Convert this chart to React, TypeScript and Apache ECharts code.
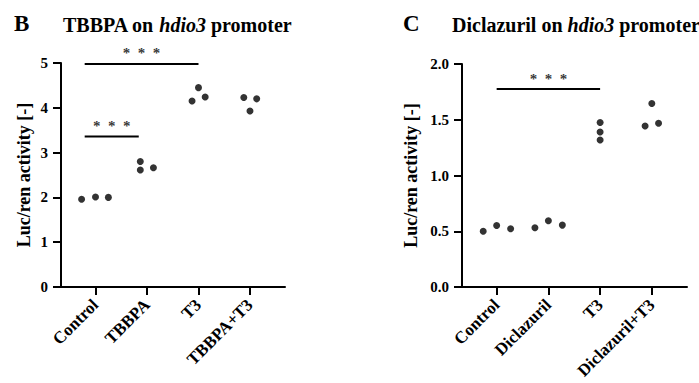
import React, { useEffect, useRef } from "react";
import * as echarts from "echarts";

// Panel B: TBBPA on hdio3 promoter
const bCategories = ["Control", "TBBPA", "T3", "TBBPA+T3"];
const bControl = [1.96, 2.01, 2.0];
const bTBBPA = [2.8, 2.61, 2.66];
const bT3 = [4.15, 4.45, 4.24];
const bTBBPAT3 = [4.23, 3.93, 4.2];
const bJitter = [
  [-0.27, 0, 0.25],
  [-0.13, -0.13, 0.125],
  [-0.125, 0, 0.13],
  [-0.12, 0, 0.13],
];
const bYTicks = [0, 1, 2, 3, 4, 5];

// Panel C: Diclazuril on hdio3 promoter
const cCategories = ["Control", "Diclazuril", "T3", "Diclazuril+T3"];
const cControl = [0.5, 0.552, 0.522];
const cDiclazuril = [0.531, 0.594, 0.555];
const cT3 = [1.475, 1.39, 1.318];
const cDiclazurilT3 = [1.444, 1.645, 1.468];
const cJitter = [
  [-0.26, 0, 0.27],
  [-0.26, 0, 0.27],
  [0, 0, 0],
  [-0.13, 0, 0.13],
];
const cYTicks = [0, 0.5, 1.0, 1.5, 2.0];

// Significance brackets: [xStart, xEnd, y]
const bSig = [
  [0.79, 3.0, 4.98],
  [0.79, 1.84, 3.36],
];
const cSig = [[1.0, 3.0, 1.775]];

const FONT = "'Liberation Serif', 'DejaVu Serif', serif";

function groupPoints(groups: number[][], jitter: number[][]) {
  const pts: number[][] = [];
  groups.forEach((vals, gi) => {
    vals.forEach((v, i) => pts.push([gi + 1 + jitter[gi][i], v]));
  });
  return pts;
}

function sigSeries(sig: number[][], idx: number) {
  const out: any[] = [];
  sig.forEach((s) => {
    out.push({
      type: "line",
      xAxisIndex: idx,
      yAxisIndex: idx,
      data: [
        [s[0], s[2]],
        [s[1], s[2]],
      ],
      symbol: "none",
      lineStyle: { color: "#000", width: 2 },
      silent: true,
    });
    out.push({
      type: "scatter",
      xAxisIndex: idx,
      yAxisIndex: idx,
      data: [[(s[0] + s[1]) / 2, s[2]]],
      symbolSize: 0,
      itemStyle: { color: "#000" },
      label: {
        show: true,
        position: "top",
        distance: 3,
        formatter: "*  *  *",
        fontFamily: FONT,
        fontWeight: "bold",
        fontSize: 15,
        color: "#000",
        textBorderWidth: 0,
      },
      silent: true,
    });
  });
  return out;
}

function xAxis(cats: string[], gridIndex: number) {
  return {
    type: "value",
    gridIndex,
    min: 0.33,
    max: 4.68,
    splitLine: { show: false },
    axisLine: { show: true, lineStyle: { color: "#000", width: 2 } },
    axisTick: {
      show: true,
      customValues: [1, 2, 3, 4],
      length: 8,
      lineStyle: { color: "#000", width: 2 },
    },
    axisLabel: {
      customValues: [1, 2, 3, 4],
      formatter: (v: number) => cats[Math.round(v) - 1] ?? "",
      rotate: 45,
      margin: 15,
      fontFamily: FONT,
      fontWeight: "bold",
      fontSize: 17,
      color: "#000",
    },
  };
}

function yAxis(ticks: number[], gridIndex: number, decimals: number) {
  return {
    type: "value",
    gridIndex,
    min: ticks[0],
    max: ticks[ticks.length - 1],
    interval: ticks[1] - ticks[0],
    name: "Luc/ren activity [-]",
    nameLocation: "middle",
    nameGap: decimals ? 42 : 28,
    nameTextStyle: {
      fontFamily: FONT,
      fontWeight: "bold",
      fontSize: 18,
      color: "#000",
    },
    splitLine: { show: false },
    axisLine: { show: true, lineStyle: { color: "#000", width: 2 } },
    axisTick: { show: true, length: 8, lineStyle: { color: "#000", width: 2 } },
    axisLabel: {
      formatter: (v: number) => v.toFixed(decimals),
      margin: 13,
      fontFamily: FONT,
      fontWeight: "bold",
      fontSize: 15,
      color: "#000",
    },
  };
}

export default function App() {
  const ref = useRef<HTMLDivElement>(null);
  useEffect(() => {
    if (!ref.current) return;
    const chart = echarts.init(ref.current, undefined, { renderer: "svg" });
    const rich = {
      b: { fontFamily: FONT, fontWeight: "bold", fontSize: 20, color: "#000" },
      i: {
        fontFamily: FONT,
        fontWeight: "bold",
        fontStyle: "italic",
        fontSize: 20,
        color: "#000",
      },
    };
    const letterStyle = {
      fontFamily: FONT,
      fontWeight: "bold",
      fontSize: 23,
      color: "#000",
    };
    chart.setOption({
      animation: false,
      backgroundColor: "#fff",
      textStyle: { fontFamily: FONT },
      title: [
        { text: "B", left: 14, top: 12, textStyle: letterStyle, padding: 0 },
        {
          text: "{b|TBBPA on }{i|hdio3}{b| promoter}",
          left: 63,
          top: 15,
          padding: 0,
          textStyle: { rich },
        },
        { text: "C", left: 403, top: 12, textStyle: letterStyle, padding: 0 },
        {
          text: "{b|Diclazuril on }{i|hdio3}{b| promoter}",
          left: 452,
          top: 15,
          padding: 0,
          textStyle: { rich },
        },
      ],
      grid: [
        {
          left: 61,
          right: 414,
          top: 63,
          bottom: 96,
          containLabel: false,
          outerBoundsMode: "none",
        },
        {
          left: 462,
          right: 12,
          top: 64,
          bottom: 96,
          containLabel: false,
          outerBoundsMode: "none",
        },
      ],
      xAxis: [xAxis(bCategories, 0), xAxis(cCategories, 1)],
      yAxis: [yAxis(bYTicks, 0, 0), yAxis(cYTicks, 1, 1)],
      series: [
        {
          type: "scatter",
          xAxisIndex: 0,
          yAxisIndex: 0,
          data: groupPoints([bControl, bTBBPA, bT3, bTBBPAT3], bJitter),
          symbolSize: 7,
          itemStyle: { color: "#000" },
        },
        {
          type: "scatter",
          xAxisIndex: 1,
          yAxisIndex: 1,
          data: groupPoints([cControl, cDiclazuril, cT3, cDiclazurilT3], cJitter),
          symbolSize: 7,
          itemStyle: { color: "#000" },
        },
        ...sigSeries(bSig, 0),
        ...sigSeries(cSig, 1),
      ],
    });
    return () => chart.dispose();
  }, []);
  return (
    <div
      ref={ref}
      style={{ position: "fixed", left: 0, top: 0, width: 699, height: 383 }}
    />
  );
}
